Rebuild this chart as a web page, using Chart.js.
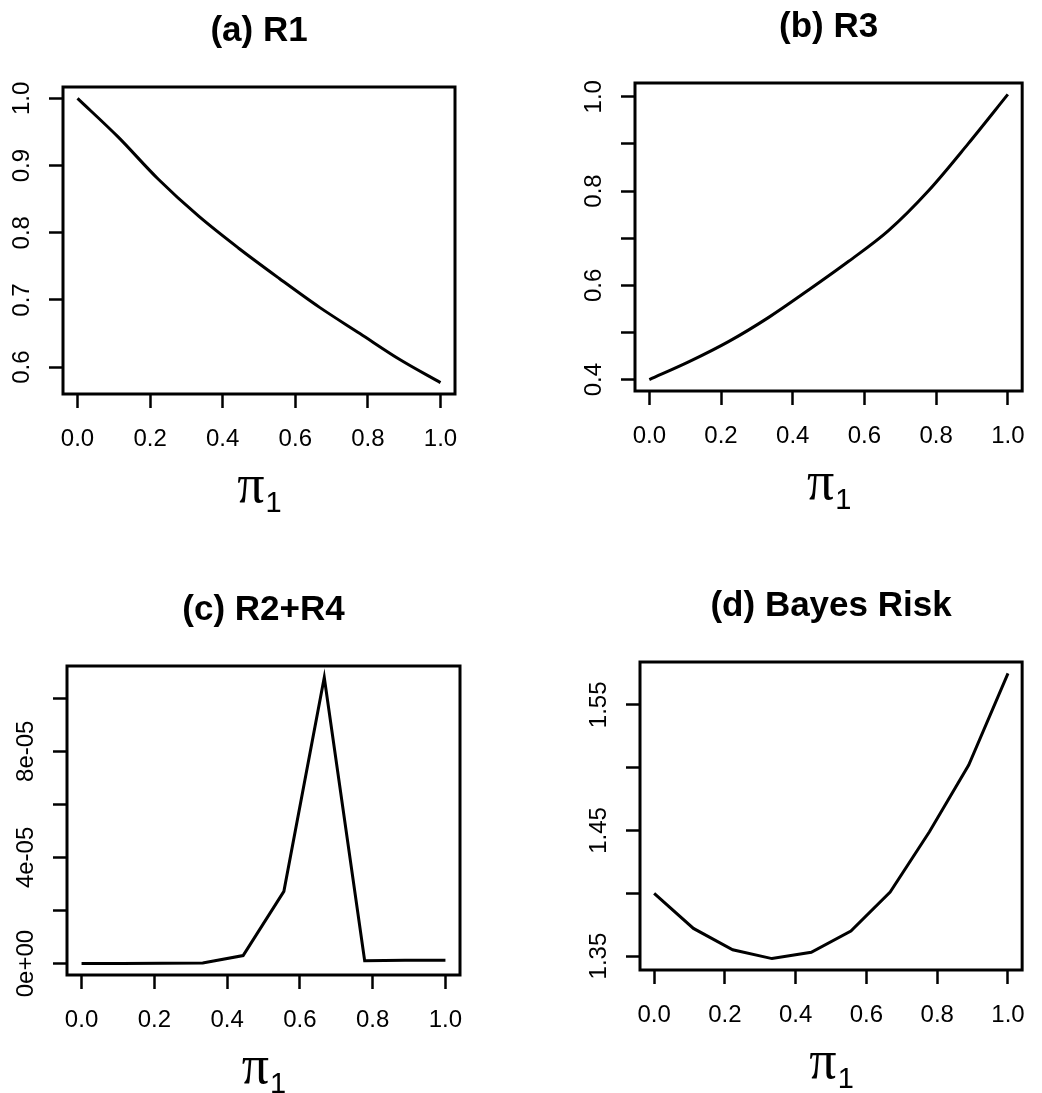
<!DOCTYPE html>
<html>
<head>
<meta charset="utf-8">
<title>Risk functions</title>
<script src="https://cdn.jsdelivr.net/npm/chart.js@4.4.1/dist/chart.umd.min.js"></script>
<style>
  body { margin: 0; background: #fff; }
  #page { position: relative; width: 1042px; height: 1093px; background: #fff; }
  canvas { position: absolute; }
</style>
</head>
<body>
<div id="page">
  <canvas id="chartA" width="521" height="546" style="left:0;top:0"></canvas>
  <canvas id="chartB" width="521" height="546" style="left:521px;top:0"></canvas>
  <canvas id="chartC" width="521" height="547" style="left:0;top:546px"></canvas>
  <canvas id="chartD" width="521" height="547" style="left:521px;top:546px"></canvas>
</div>
<script>
/* --------------- Data --------------------- */
const piGrid = [0, 0.111, 0.222, 0.333, 0.444, 0.556, 0.667, 0.778, 0.889, 1.0];

const r1Values = [1.000, 0.943, 0.880, 0.825, 0.777, 0.732, 0.689, 0.650, 0.611, 0.577];
const r3Values = [0.400, 0.438, 0.481, 0.532, 0.590, 0.651, 0.716, 0.800, 0.900, 1.005];
const r2r4Values = [0, 0, 0.1e-6, 0.2e-6, 3.0e-6, 2.72e-5, 1.078e-4, 1.1e-6, 1.2e-6, 1.25e-6];
const bayesValues = [1.400, 1.372, 1.355, 1.348, 1.353, 1.370, 1.401, 1.449, 1.502, 1.575];

/* --------------- Ticks --------------------- */
const xTicks = [0, 0.2, 0.4, 0.6, 0.8, 1.0];
const xTickLabels = ["0.0", "0.2", "0.4", "0.6", "0.8", "1.0"];

const r1Ticks = [0.6, 0.7, 0.8, 0.9, 1.0];
const r1TickLabels = ["0.6", "0.7", "0.8", "0.9", "1.0"];

const r3Ticks = [0.4, 0.5, 0.6, 0.7, 0.8, 0.9, 1.0];
const r3TickLabels = ["0.4", "", "0.6", "", "0.8", "", "1.0"];

const r2r4Ticks = [0, 2e-5, 4e-5, 6e-5, 8e-5, 1e-4];
const r2r4TickLabels = ["0e+00", "", "4e-05", "", "8e-05", ""];

const bayesTicks = [1.35, 1.40, 1.45, 1.50, 1.55];
const bayesTickLabels = ["1.35", "", "1.45", "", "1.55"];

/* --------------- Look --------------------- */
const sansFont = '"Liberation Sans", Arial, Helvetica, sans-serif';
const tickLen = 14;
const tickFontSize = 24;

// R style range: 4% extra on each side
function padRange(values) {
  const lo = Math.min(...values), hi = Math.max(...values);
  const d = (hi - lo) * 0.04;
  return { min: lo - d, max: hi + d };
}

const measureCtx = document.createElement("canvas").getContext("2d");
function widestLabel(labels) {
  measureCtx.font = tickFontSize + "px " + sansFont;
  return Math.max(...labels.map(l => measureCtx.measureText(l).width));
}

// box, title and pi_1 label
function panelDecor(title) {
  return {
    id: "panelDecor",
    afterDraw(chart) {
      const { ctx, chartArea } = chart;
      const cx = (chartArea.left + chartArea.right) / 2;
      ctx.save();
      ctx.strokeStyle = "#000";
      ctx.lineWidth = 3;
      ctx.strokeRect(chartArea.left, chartArea.top, chartArea.right - chartArea.left, chartArea.bottom - chartArea.top);

      ctx.fillStyle = "#000";
      ctx.textAlign = "center";
      ctx.textBaseline = "alphabetic";
      ctx.font = "bold 35px " + sansFont;
      ctx.fillText(title, cx, chartArea.top - 46);

      // x axis label: pi with subscript 1
      const piFont = '54px "Liberation Serif", "Times New Roman", serif';
      const oneFont = "29px " + sansFont;
      ctx.textAlign = "left";
      ctx.font = piFont;
      const piW = ctx.measureText("\u03c0").width;
      ctx.font = oneFont;
      const oneW = ctx.measureText("1").width;
      const startX = cx - (piW + oneW) / 2;
      const base = chartArea.bottom + 108;
      ctx.font = piFont;
      ctx.fillText("\u03c0", startX, base);
      ctx.font = oneFont;
      ctx.fillText("1", startX + piW + 1, base + 10);
      ctx.restore();
    }
  };
}

function makePanel(id, p) {
  const canvas = document.getElementById(id);
  const W = canvas.width, H = canvas.height;
  const yRange = padRange(p.values);
  const yPadding = 41 - tickLen - widestLabel(p.yLabels) / 2;
  const gridOpts = {
    drawOnChartArea: false,
    drawTicks: true,
    tickLength: tickLen,
    tickColor: "#000",
    tickWidth: 2.5,
  };
  return new Chart(canvas, {
    type: "line",
    data: {
      datasets: [{
        data: piGrid.map((x, i) => ({ x: x, y: p.values[i] })),
        borderColor: "#000",
        borderWidth: 3,
        pointRadius: 0,
        cubicInterpolationMode: p.smooth ? "monotone" : "default",
        tension: 0,
        fill: false,
      }],
    },
    options: {
      responsive: false,
      animation: false,
      events: [],
      layout: { padding: { left: 0, top: p.box.top, right: W - p.box.right, bottom: 0 } },
      plugins: { legend: { display: false }, tooltip: { enabled: false } },
      scales: {
        x: {
          type: "linear",
          bounds: "data",
          min: -0.04,
          max: 1.04,
          afterBuildTicks: s => { s.ticks = xTicks.map(v => ({ value: v })); },
          afterFit: s => { s.height = H - p.box.bottom; },
          grid: gridOpts,
          border: { display: false },
          ticks: {
            autoSkip: false,
            maxRotation: 0,
            padding: 17,
            color: "#000",
            font: { family: sansFont, size: tickFontSize },
            callback: (v, i) => xTickLabels[i],
          },
        },
        y: {
          type: "linear",
          bounds: "data",
          min: yRange.min,
          max: yRange.max,
          afterBuildTicks: s => { s.ticks = p.yTicks.map(v => ({ value: v })); },
          afterFit: s => { s.width = p.box.left; },
          grid: gridOpts,
          border: { display: false },
          ticks: {
            autoSkip: false,
            minRotation: 90,
            maxRotation: 90,
            crossAlign: "center",
            padding: yPadding,
            color: "#000",
            font: { family: sansFont, size: tickFontSize },
            callback: (v, i) => p.yLabels[i],
          },
        },
      },
    },
    plugins: [panelDecor(p.title)],
  });
}

/* --------------- Panels --------------------- */
makePanel("chartA", {
  title: "(a) R1", values: r1Values, yTicks: r1Ticks, yLabels: r1TickLabels, smooth: true,
  box: { left: 63, right: 455, top: 87, bottom: 394 },
});
makePanel("chartB", {
  title: "(b) R3", values: r3Values, yTicks: r3Ticks, yLabels: r3TickLabels, smooth: true,
  box: { left: 114, right: 508, top: 83, bottom: 391 },
});
makePanel("chartC", {
  title: "(c) R2+R4", values: r2r4Values, yTicks: r2r4Ticks, yLabels: r2r4TickLabels,
  box: { left: 67, right: 460, top: 120, bottom: 429 },
});
makePanel("chartD", {
  title: "(d) Bayes Risk", values: bayesValues, yTicks: bayesTicks, yLabels: bayesTickLabels,
  box: { left: 119, right: 512, top: 116, bottom: 424 },
});
</script>
</body>
</html>
